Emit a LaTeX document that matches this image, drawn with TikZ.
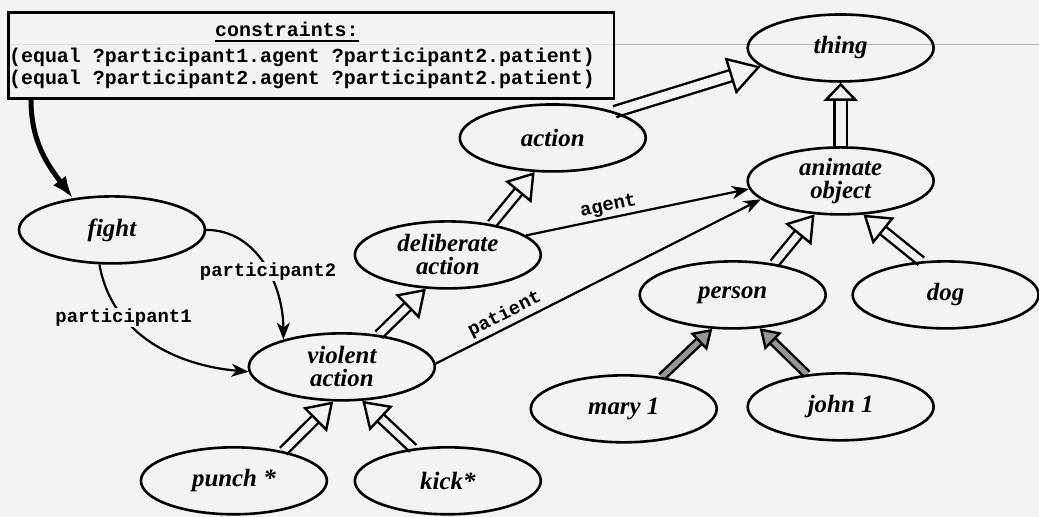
\documentclass[tikz,border=0pt]{standalone}
\usepackage{fontspec}
\setmainfont{Liberation Serif}
\setmonofont{Liberation Mono}
\usetikzlibrary{arrows.meta, shapes.geometric}
\definecolor{bg}{RGB}{243,243,243}
\definecolor{hatch}{RGB}{150,150,150}
\pgfdeclarelayer{back}
\pgfdeclarelayer{edges}
\pgfsetlayers{back,edges,main}

\begin{document}
\begin{tikzpicture}[x=1bp, y=1bp,
  concept/.style={ellipse, draw, line width=2.6bp, minimum width=186bp,
    minimum height=67bp, inner sep=0pt, align=center,
    font=\fontsize{25}{23}\selectfont\bfseries\itshape},
  slot/.style={font=\fontsize{19}{19}\selectfont\ttfamily\bfseries},
  code/.style={font=\fontsize{20}{20}\selectfont\ttfamily\bfseries, inner sep=0pt},
  rel/.style={draw, line width=2.2bp, -{Stealth[length=17bp, width=13bp, inset=5bp]}},
  % is-a link: hollow double shaft with an open triangular head
  isa/.style n args={5}{draw=#1, line width=2.4bp,
    -{Triangle[color=black, fill=#1, length=#2, width=#3]},
    preaction={draw=black, -, double=#1, double distance=#4, line width=2.4bp, shorten >=#5}},
]
\begin{pgfonlayer}{back}
  \fill[bg] (0,0) rectangle (1039,-517);
  \draw[gray!25, line width=0.8bp] (7,-44) -- (613,-44);
  \draw[gray!60, line width=0.8bp] (613,-44) -- (1039,-44);
\end{pgfonlayer}
\useasboundingbox (0,0) rectangle (1039,-517);

% constraint box
\node[draw, line width=2.6bp, minimum width=606bp, minimum height=86bp,
  inner sep=0pt, anchor=north west] (cbox) at (7,-11) {};
\node[code, anchor=base] (ctitle) at (287,-37) {constraints:};
\draw[line width=1.6bp] ([yshift=-4bp]ctitle.base west) -- ([yshift=-4bp]ctitle.base east);
\node[code, anchor=base west] (c1) at (9,-63) {(equal ?participant1.agent ?participant2.patient)};
\node[code, anchor=base west] (c2) at (9,-85) {(equal ?participant2.agent ?participant2.patient)};
\coordinate (cfoot) at ([xshift=24bp]cbox.south west);

% concepts
\node[concept] (thing)   at (841,-48)  {thing};
\node[concept] (animate) at (841,-181) {animate\\object};
\node[concept] (action)  at (553,-138) {action};
\node[concept] (delib)   at (448,-255) {deliberate\\action};
\node[concept] (fight)   at (112,-230) {fight};
\node[concept] (violent) at (342,-367) {violent\\action};
\node[concept] (punch)   at (234,-481) {punch *};
\node[concept] (kick)    at (448,-481) {kick*};
\node[concept] (person)  at (733,-295) {person};
\node[concept] (dog)     at (946,-295) {dog};
\node[concept] (mary)    at (624,-409) {mary 1};
\node[concept] (john)    at (841,-407) {john 1};

\begin{pgfonlayer}{edges}
  % constraint attachment
  \draw[line width=5bp, -{Latex[length=22bp, width=16bp]}]
    (cfoot) to[out=-90, in=127] (fight.141);

  % is-a hierarchy
  \draw[isa={bg}{32bp}{38bp}{9bp}{29bp}] (action.23) -- (thing.193);
  \draw[isa={bg}{18bp}{34bp}{10bp}{15bp}] (animate.north) -- (thing.south);
  \draw[isa={bg}{26bp}{34bp}{7bp}{23bp}] (delib.35) -- (action.242);
  \draw[isa={bg}{26bp}{34bp}{7bp}{23bp}] (violent.41) -- (delib.237);
  \draw[isa={bg}{26bp}{34bp}{7bp}{23bp}] (punch.31) -- (violent.256);
  \draw[isa={bg}{26bp}{34bp}{7bp}{23bp}] (kick.137) -- (violent.301);
  \draw[isa={bg}{26bp}{34bp}{7bp}{23bp}] (person.37) -- (animate.232);
  \draw[isa={bg}{26bp}{34bp}{7bp}{23bp}] (dog.126) -- (animate.304);
  \draw[isa={hatch}{19bp}{24bp}{5bp}{16bp}] (mary.40) -- (person.239);
  \draw[isa={hatch}{19bp}{24bp}{5bp}{16bp}] (john.136) -- (person.309);

  % slots
  \draw[rel] (delib.14) -- node[slot, sloped, above, pos=0.38, inner sep=2bp] (lagent) {agent} (animate.185);
  \draw[rel] (violent.2) -- node[slot, sloped, above, pos=0.23, inner sep=3bp] (lpatient) {patient} (animate.193);
  \draw[rel] (fight.250) to[out=-80, in=175]
    node[slot, fill=bg, inner sep=1bp, pos=0.3] (lp1) {participant1} (violent.183);
  \draw[rel] (fight.east) to[out=0, in=90]
    node[slot, fill=bg, inner sep=1bp, pos=0.55] (lp2) {participant2} (violent.155);
\end{pgfonlayer}
\end{tikzpicture}
\end{document}
